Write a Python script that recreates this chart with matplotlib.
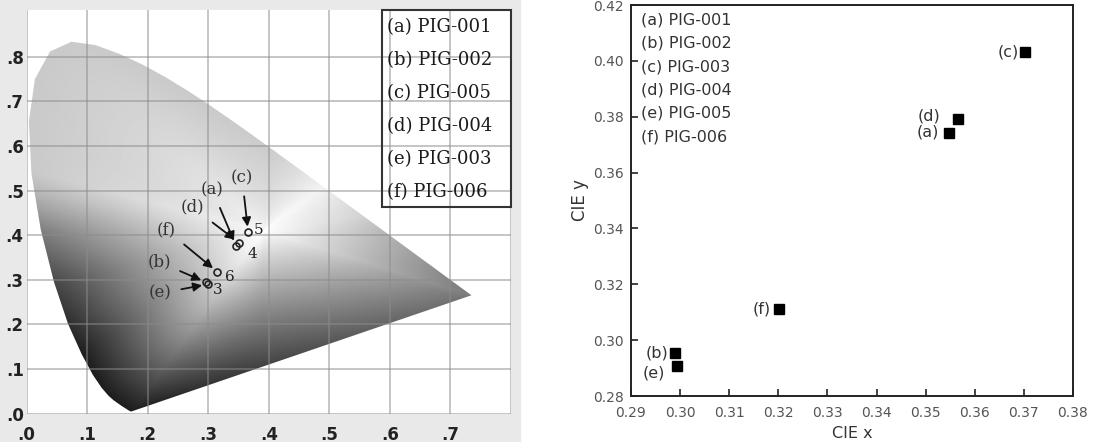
import numpy as np
import matplotlib.pyplot as plt
from matplotlib.patches import Polygon, Rectangle

# CIE 1931 2-degree spectral locus, 400-700 nm
locus_x = [0.1733, 0.1726, 0.1714, 0.1689, 0.1644, 0.1566, 0.1440, 0.1355, 0.1241,
           0.1096, 0.0913, 0.0687, 0.0454, 0.0235, 0.0082, 0.0039, 0.0139, 0.0389,
           0.0743, 0.1142, 0.1547, 0.1929, 0.2296, 0.2658, 0.3016, 0.3373, 0.3731,
           0.4087, 0.4441, 0.4788, 0.5125, 0.5448, 0.5752, 0.6029, 0.6270, 0.6482,
           0.6658, 0.6915, 0.7079, 0.7190, 0.7260, 0.7300, 0.7334, 0.7347]
locus_y = [0.0048, 0.0048, 0.0051, 0.0069, 0.0109, 0.0177, 0.0297, 0.0399, 0.0578,
           0.0868, 0.1327, 0.2007, 0.2950, 0.4127, 0.5384, 0.6548, 0.7502, 0.8120,
           0.8338, 0.8262, 0.8059, 0.7816, 0.7543, 0.7243, 0.6923, 0.6589, 0.6245,
           0.5896, 0.5547, 0.5202, 0.4866, 0.4544, 0.4242, 0.3965, 0.3725, 0.3514,
           0.3340, 0.3083, 0.2920, 0.2809, 0.2740, 0.2700, 0.2666, 0.2653]

# left panel: points as marked on the chromaticity diagram
left_names = ['(a) PIG-001', '(b) PIG-002', '(c) PIG-005',
              '(d) PIG-004', '(e) PIG-003', '(f) PIG-006']
left_tags = ['(a)', '(b)', '(c)', '(d)', '(e)', '(f)']
left_x = [0.346, 0.297, 0.366, 0.351, 0.299, 0.315]
left_y = [0.376, 0.294, 0.407, 0.383, 0.290, 0.318]
left_nums = ['', '', '5', '4', '3', '6']

# right panel: CIE coordinates
right_names = ['(a) PIG-001', '(b) PIG-002', '(c) PIG-003',
               '(d) PIG-004', '(e) PIG-005', '(f) PIG-006']
right_tags = ['(a)', '(b)', '(c)', '(d)', '(e)', '(f)']
cie_x = [0.3548, 0.2990, 0.3702, 0.3566, 0.2994, 0.3201]
cie_y = [0.3741, 0.2953, 0.4031, 0.3791, 0.2906, 0.3110]

fig = plt.figure(figsize=(10.98, 4.42), dpi=100)
W, H = 1098, 442

# grey backdrop of the left picture
fig.patches.append(Rectangle((0, 0), 520 / W, 1, transform=fig.transFigure,
                             color='#e9e9e9', zorder=-1))

# ---------------- left: chromaticity diagram ----------------
axL = fig.add_axes([26.5 / W, 28.4 / H, 484.5 / W, 403.6 / H])
axL.set_xlim(0, 0.8)
axL.set_ylim(0, 0.905)

# grey shading of the horseshoe (white centre, dark blue corner)
cx, cy = 0.39, 0.41
xs = np.linspace(0, 0.8, 480)
ys = np.linspace(0, 0.905, 540)
X, Y = np.meshgrid(xs, ys)
ang = np.degrees(np.arctan2(Y - cy, X - cx))
rad = np.hypot(X - cx, Y - cy)

bx = np.array(locus_x + [locus_x[0]])
by = np.array(locus_y + [locus_y[0]])
dx = np.concatenate([np.linspace(bx[i], bx[i + 1], 40, endpoint=False) for i in range(len(bx) - 1)])
dy = np.concatenate([np.linspace(by[i], by[i + 1], 40, endpoint=False) for i in range(len(by) - 1)])
ea = np.degrees(np.arctan2(dy - cy, dx - cx))
er = np.hypot(dx - cx, dy - cy)
o = np.argsort(ea)
r_edge = np.interp(ang, ea[o], er[o], period=360)
s = np.clip(rad / r_edge, 0, 1)

edge_ang = [-180, -161, -137, -119, -109, -90, -58, -25, -12, 11, 45, 86, 110, 129, 161, 168, 180]
edge_val = [0.50, 0.28, 0.12, 0.11, 0.18, 0.26, 0.36, 0.45, 0.62, 0.82, 0.95, 0.80, 0.79, 0.79, 0.79, 0.70, 0.50]
pow_ang = [-180, -120, -90, -40, 0, 30, 60, 150, 170, 180]
pow_val = [1.0, 1.3, 0.9, 0.85, 1.0, 0.8, 0.45, 0.45, 0.8, 1.0]
g_edge = np.interp(ang, edge_ang, edge_val)
p = np.interp(ang, pow_ang, pow_val)
gray = 1 - (1 - g_edge) * s ** p

im = axL.imshow(gray, extent=[0, 0.8, 0, 0.905], origin='lower', cmap='gray',
                vmin=0, vmax=1, aspect='auto', interpolation='bilinear', zorder=0)
horse = Polygon(list(zip(locus_x, locus_y)), closed=True, facecolor='none',
                edgecolor='none', transform=axL.transData)
axL.add_patch(horse)
im.set_clip_path(horse)

axL.set_xticks(np.arange(0, 0.81, 0.1))
axL.set_yticks(np.arange(0, 0.81, 0.1))
axL.set_xticklabels(['.0', '.1', '.2', '.3', '.4', '.5', '.6', '.7', ''])
axL.set_yticklabels(['.0', '.1', '.2', '.3', '.4', '.5', '.6', '.7', '.8'])
axL.grid(True, color='#8c8c8c', alpha=0.5, lw=1.4)
axL.set_axisbelow(False)
axL.tick_params(length=0, labelsize=12, colors='#222')
axL.tick_params(axis='x', pad=9)
axL.tick_params(axis='y', pad=2)
for lab in axL.get_xticklabels() + axL.get_yticklabels():
    lab.set_fontweight('bold')
for sp in axL.spines.values():
    sp.set_visible(False)

axL.plot(left_x, left_y, 'o', ms=5, mfc='none', mec='#222', mew=1.2, zorder=4)

tag_pos = [(0.307, 0.501), (0.219, 0.340), (0.356, 0.528),
           (0.274, 0.463), (0.221, 0.270), (0.231, 0.412)]
for tag, px, py, tp in zip(left_tags, left_x, left_y, tag_pos):
    axL.annotate(tag, xy=(px, py), xytext=tp, ha='center', va='center',
                 fontsize=12, family='DejaVu Serif', color='#333', zorder=5,
                 arrowprops=dict(arrowstyle='-|>', color='#111', lw=1.3,
                                 mutation_scale=13, shrinkA=5, shrinkB=4))

num_off = [(0, 0), (0, 0), (10, 2), (13, -11), (10, -6), (13, -5)]
for num, px, py, off in zip(left_nums, left_x, left_y, num_off):
    axL.annotate(num, xy=(px, py), xytext=off, textcoords='offset pixels',
                 ha='center', va='center', fontsize=11, family='DejaVu Serif',
                 color='#222', zorder=5)

axL.add_patch(Rectangle((0.734, 0.512), 0.266, 0.488, transform=axL.transAxes,
                        fill=False, ec='#333', lw=1.5, clip_on=False, zorder=6))
for i, name in enumerate(left_names):
    axL.text(0.744, 0.958 - i * 0.0818, name, transform=axL.transAxes,
             ha='left', va='center', fontsize=13, family='DejaVu Serif',
             color='#1a1a1a', zorder=6)

# ---------------- right: CIE x / CIE y scatter ----------------
axR = fig.add_axes([631 / W, 46 / H, 442 / W, 391 / H])
axR.plot(cie_x, cie_y, 's', ms=6.5, color='black')
axR.set_xlim(0.29, 0.38)
axR.set_ylim(0.28, 0.42)
axR.set_xticks(np.arange(0.29, 0.3801, 0.01))
axR.set_yticks(np.arange(0.28, 0.4201, 0.02))
axR.set_xticklabels([f'{v:.2f}' for v in np.arange(0.29, 0.3801, 0.01)])
axR.set_yticklabels([f'{v:.2f}' for v in np.arange(0.28, 0.4201, 0.02)])
axR.tick_params(direction='in', length=5, width=1.2, labelsize=10,
                labelcolor='#555', color='#222')
axR.tick_params(axis='x', pad=7)
axR.tick_params(axis='y', pad=5)
for sp in axR.spines.values():
    sp.set_linewidth(1.4)
    sp.set_color('#222')

tag_off = [(-21, 1), (-18, 0), (-17, 0), (-29, 3), (-23, -7), (-17, 0)]
for tag, xv, yv, off in zip(right_tags, cie_x, cie_y, tag_off):
    axR.annotate(tag, xy=(xv, yv), xytext=off, textcoords='offset pixels',
                 ha='center', va='center', fontsize=11.5, color='#333')

for i, name in enumerate(right_names):
    axR.text(0.022, 0.962 - i * 0.0597, name, transform=axR.transAxes,
             ha='left', va='center', fontsize=11.5, color='#333')

axR.set_xlabel('CIE x', fontsize=11.5, color='#333')
axR.set_ylabel('CIE y', fontsize=12, color='#333')
axR.xaxis.set_label_coords(0.5, -0.078)
axR.yaxis.set_label_coords(-0.095, 0.5)

fig.savefig('out.png', dpi=100)
